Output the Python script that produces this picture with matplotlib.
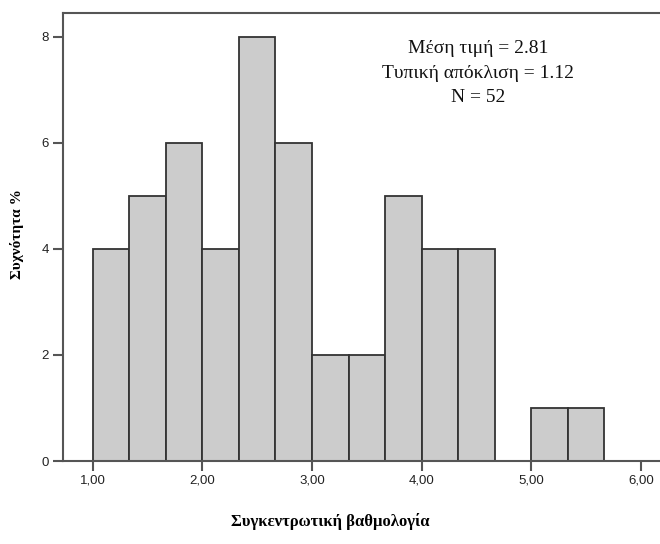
import matplotlib
matplotlib.use("Agg")
import matplotlib.pyplot as plt
import numpy as np

# Data
bin_edges = [1.0, 4/3, 5/3, 2.0, 7/3, 8/3, 3.0, 10/3, 11/3, 4.0, 13/3, 14/3, 5.0, 16/3, 17/3]
counts = [4, 5, 6, 4, 8, 6, 2, 2, 5, 4, 4, 0, 1, 1]
x_ticks = [1, 2, 3, 4, 5, 6]
x_tick_labels = ["1,00", "2,00", "3,00", "4,00", "5,00", "6,00"]
y_ticks = [0, 2, 4, 6, 8]
stats_text = "Μέση τιμή = 2.81\nΤυπική απόκλιση = 1.12\nN = 52"
xlabel = "Συγκεντρωτική βαθμολογία"
ylabel = "Συχνότητα %"

fig = plt.figure(figsize=(6.6, 5.44), dpi=100)
ax = fig.add_axes([63/660, 1 - 461/544, 1 - 63/660 + 0.002, (461 - 13)/544])

edges = np.array(bin_edges)
widths = np.diff(edges)
cnt = np.array(counts)
mask = cnt > 0
ax.bar(edges[:-1][mask], cnt[mask], width=widths[mask], align="edge",
       color="#cccccc", edgecolor="#333333", linewidth=1.3, zorder=2)

ax.set_xlim(0.729, 6.185)
ax.set_ylim(0, 8.45)

ax.spines["right"].set_visible(False)
for s in ["left", "bottom", "top"]:
    ax.spines[s].set_color("#555555")
    ax.spines[s].set_linewidth(1.5)

ax.set_xticks(x_ticks)
ax.set_xticklabels(x_tick_labels)
ax.set_yticks(y_ticks)
ax.set_yticklabels([str(v) for v in y_ticks])
ax.tick_params(axis="both", direction="out", length=7, width=1.5, color="#555555",
               labelsize=9.5, labelcolor="#222222", pad=3)
for lab in ax.get_xticklabels() + ax.get_yticklabels():
    lab.set_fontfamily("Liberation Sans")

ax.text(0.694, 0.94, stats_text, transform=ax.transAxes, ha="center", va="top",
        fontsize=14, family="Liberation Serif", linespacing=1.6, color="#111111",
        multialignment="center")

fig.text(330/660, 1 - 521/544, xlabel, ha="center", va="center",
         fontsize=12, family="Liberation Serif", fontweight="bold")
fig.text(17/660, 1 - 234/544, ylabel, ha="center", va="center", rotation=90,
         fontsize=11, family="Liberation Serif", fontweight="bold")

fig.savefig("out.png", dpi=100)
